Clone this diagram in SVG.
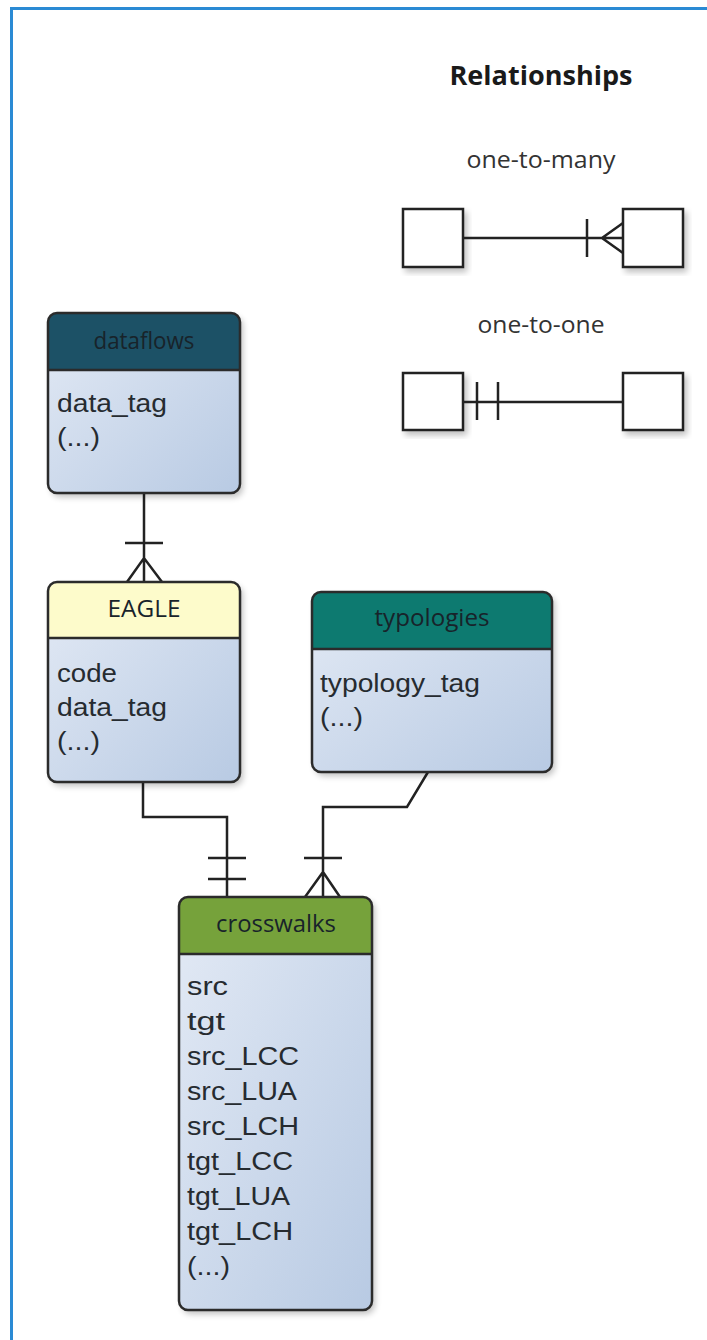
<svg xmlns="http://www.w3.org/2000/svg" width="707" height="1340" viewBox="0 0 707 1340">
  <defs>
    <linearGradient id="bodyFill" x1="0" y1="0" x2="1" y2="1">
      <stop offset="0" stop-color="#e3eaf5"/>
      <stop offset="1" stop-color="#b8cae3"/>
    </linearGradient>
    <filter id="shadow" x="-10%" y="-10%" width="125%" height="125%">
      <feGaussianBlur in="SourceAlpha" stdDeviation="3"/>
      <feOffset dx="3" dy="4" result="b"/>
      <feComponentTransfer><feFuncA type="linear" slope="0.25"/></feComponentTransfer>
      <feMerge><feMergeNode/><feMergeNode in="SourceGraphic"/></feMerge>
    </filter>
    <clipPath id="clipDataflows"><rect x="48" y="313" width="192" height="180" rx="9"/></clipPath>
    <clipPath id="clipEagle"><rect x="48" y="582" width="192" height="200" rx="9"/></clipPath>
    <clipPath id="clipTypologies"><rect x="312" y="592" width="240" height="180" rx="9"/></clipPath>
    <clipPath id="clipCrosswalks"><rect x="179" y="897" width="193" height="413" rx="9"/></clipPath>
  </defs>
  <style>
    .frame { fill: none; stroke: #2a8ad4; stroke-width: 3; }
    .outline { fill: none; stroke: #2b2b2b; stroke-width: 2.5; }
    .divider { stroke: #2b2b2b; stroke-width: 2.5; }
    .body { fill: url(#bodyFill); }
    .head { font-family: "Open Sans", "Noto Sans", sans-serif; font-size: 23px; fill: #18232a; text-anchor: middle; }
    .field { font-family: "Liberation Sans", Arial, sans-serif; font-size: 25px; fill: #262b30; }
    .title { font-family: "Open Sans", "Noto Sans", sans-serif; font-size: 27px; font-weight: bold; fill: #1a1a1a; text-anchor: middle; }
    .legend-label { font-family: "Open Sans", "Noto Sans", sans-serif; font-size: 23px; fill: #333333; text-anchor: middle; }
    .line { fill: none; stroke: #222; stroke-width: 2.5; }
    .legend-box { fill: #ffffff; stroke: #222; stroke-width: 2.5; }
  </style>

  <rect width="707" height="1340" fill="#ffffff"/>
  <!-- outer frame: top and left edges -->
  <path class="frame" d="M11.5 1340 V8.5 H707"/>

  <!-- legend -->
  <g id="legend">
    <text class="title" x="541" y="85" textLength="183" lengthAdjust="spacingAndGlyphs">Relationships</text>
    <text class="legend-label" x="541" y="168" textLength="149" lengthAdjust="spacingAndGlyphs">one-to-many</text>
    <rect class="legend-box" x="403" y="209" width="60" height="58" filter="url(#shadow)"/>
    <rect class="legend-box" x="623" y="209" width="60" height="58" filter="url(#shadow)"/>
    <path class="line" d="M463 238 H623 M587 219 V257 M623 223 L602 238 L623 253"/>
    <text class="legend-label" x="541" y="333" textLength="127" lengthAdjust="spacingAndGlyphs">one-to-one</text>
    <rect class="legend-box" x="403" y="373" width="60" height="57" filter="url(#shadow)"/>
    <rect class="legend-box" x="623" y="373" width="60" height="57" filter="url(#shadow)"/>
    <path class="line" d="M463 402 H623 M477 382 V420 M498 382 V420"/>
  </g>

  <!-- connectors -->
  <g id="connectors">
    <!-- dataflows 1 : N EAGLE -->
    <path class="line" d="M144 493 V582 M125 543 H163 M127 582 L144 558 L162 582"/>
    <!-- EAGLE 1 : 1 crosswalks -->
    <path class="line" d="M143 782 V817 H227 V897 M208 858 H246 M208 879 H246"/>
    <!-- typologies 1 : N crosswalks -->
    <path class="line" d="M428 772 L407 807 H323 V897 M304 858 H342 M305 897 L323 872 L340 897"/>
  </g>

  <!-- dataflows -->
  <g id="dataflows">
    <g filter="url(#shadow)">
      <g clip-path="url(#clipDataflows)">
        <rect class="body" x="48" y="313" width="192" height="180"/>
        <rect x="48" y="313" width="192" height="57" fill="#1f5166"/>
      </g>
    </g>
    <line class="divider" x1="48" y1="370" x2="240" y2="370"/>
    <rect class="outline" x="48" y="313" width="192" height="180" rx="9"/>
    <text class="head" x="144" y="349" textLength="101" lengthAdjust="spacingAndGlyphs">dataflows</text>
    <text class="field" x="57" y="412" textLength="110" lengthAdjust="spacingAndGlyphs">data_tag</text>
    <text class="field" x="57" y="446" textLength="43" lengthAdjust="spacingAndGlyphs">(...)</text>
  </g>

  <!-- EAGLE -->
  <g id="eagle">
    <g filter="url(#shadow)">
      <g clip-path="url(#clipEagle)">
        <rect class="body" x="48" y="582" width="192" height="200"/>
        <rect x="48" y="582" width="192" height="56" fill="#fdfbcb"/>
      </g>
    </g>
    <line class="divider" x1="48" y1="638" x2="240" y2="638"/>
    <rect class="outline" x="48" y="582" width="192" height="200" rx="9"/>
    <text class="head" x="144" y="617" textLength="73" lengthAdjust="spacingAndGlyphs">EAGLE</text>
    <text class="field" x="57" y="682" textLength="60" lengthAdjust="spacingAndGlyphs">code</text>
    <text class="field" x="57" y="716" textLength="110" lengthAdjust="spacingAndGlyphs">data_tag</text>
    <text class="field" x="57" y="750" textLength="43" lengthAdjust="spacingAndGlyphs">(...)</text>
  </g>

  <!-- typologies -->
  <g id="typologies">
    <g filter="url(#shadow)">
      <g clip-path="url(#clipTypologies)">
        <rect class="body" x="312" y="592" width="240" height="180"/>
        <rect x="312" y="592" width="240" height="57" fill="#077a70"/>
      </g>
    </g>
    <line class="divider" x1="312" y1="649" x2="552" y2="649"/>
    <rect class="outline" x="312" y="592" width="240" height="180" rx="9"/>
    <text class="head" x="432" y="626" textLength="115" lengthAdjust="spacingAndGlyphs">typologies</text>
    <text class="field" x="320" y="692" textLength="160" lengthAdjust="spacingAndGlyphs">typology_tag</text>
    <text class="field" x="320" y="726" textLength="43" lengthAdjust="spacingAndGlyphs">(...)</text>
  </g>

  <!-- crosswalks -->
  <g id="crosswalks">
    <g filter="url(#shadow)">
      <g clip-path="url(#clipCrosswalks)">
        <rect class="body" x="179" y="897" width="193" height="413"/>
        <rect x="179" y="897" width="193" height="57" fill="#76a23a"/>
      </g>
    </g>
    <line class="divider" x1="179" y1="954" x2="372" y2="954"/>
    <rect class="outline" x="179" y="897" width="193" height="413" rx="9"/>
    <text class="head" x="276" y="932" textLength="120" lengthAdjust="spacingAndGlyphs">crosswalks</text>
    <text class="field" x="187" y="995" textLength="41" lengthAdjust="spacingAndGlyphs">src</text>
    <text class="field" x="187" y="1030" textLength="38" lengthAdjust="spacingAndGlyphs">tgt</text>
    <text class="field" x="187" y="1065" textLength="112" lengthAdjust="spacingAndGlyphs">src_LCC</text>
    <text class="field" x="187" y="1100" textLength="110" lengthAdjust="spacingAndGlyphs">src_LUA</text>
    <text class="field" x="187" y="1135" textLength="112" lengthAdjust="spacingAndGlyphs">src_LCH</text>
    <text class="field" x="187" y="1170" textLength="106" lengthAdjust="spacingAndGlyphs">tgt_LCC</text>
    <text class="field" x="187" y="1205" textLength="103" lengthAdjust="spacingAndGlyphs">tgt_LUA</text>
    <text class="field" x="187" y="1240" textLength="106" lengthAdjust="spacingAndGlyphs">tgt_LCH</text>
    <text class="field" x="187" y="1275" textLength="43" lengthAdjust="spacingAndGlyphs">(...)</text>
  </g>
</svg>
